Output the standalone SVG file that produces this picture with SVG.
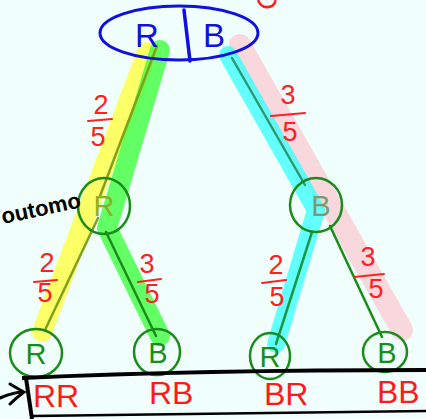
<svg xmlns="http://www.w3.org/2000/svg" width="426" height="419" viewBox="0 0 426 419">
<style>
.hl{fill:none;stroke-linecap:round;stroke-linejoin:round}
.thin{fill:none;stroke-width:2.5;stroke-linecap:round}
.node{fill:none;stroke:#1a8c1a;stroke-width:2.5}
.nt{font-family:"Liberation Sans",sans-serif;font-size:29px;fill:#1a8c1a;text-anchor:middle}
.fr{font-family:"Liberation Sans",sans-serif;font-size:27px;fill:#ff2020;text-anchor:middle}
.frl{stroke:#ff2020;stroke-width:2;stroke-linecap:round}
.lab{font-family:"Liberation Sans",sans-serif;font-size:32px;fill:#ff1a1a}
</style>
<rect width="426" height="419" fill="#f0fffb"/>
<g id="connectors">
  <path class="hl" d="M240,45 L402,330" stroke="#ffb8c4" stroke-opacity="0.55" stroke-width="22"/>
  <path class="hl" d="M147,52 L42,332" stroke="#ffff40" stroke-opacity="0.8" stroke-width="20"/>
  <path class="hl" d="M160,50 L107,228 L160,336" stroke="#33ff33" stroke-opacity="0.75" stroke-width="20"/>
  <path class="hl" d="M228,55 L316,210 L276,344" stroke="#33ffff" stroke-opacity="0.75" stroke-width="18"/>
  <path class="thin" d="M157,46 L100,196" stroke="#7fa020"/>
  <path class="thin" d="M98,218 L45,330" stroke="#7fa020"/>
  <path class="thin" d="M106,232 L156,336" stroke="#1a8c1a"/>
  <path class="thin" d="M232,58 L305,185" stroke="#2a9a70"/>
  <path class="thin" d="M312,232 L276,344" stroke="#1a9a40"/>
  <path class="thin" d="M330,226 L382,337" stroke="#1a8c1a"/>
</g>
<g id="root">
  <ellipse cx="179" cy="33" rx="79" ry="27" fill="none" stroke="#1010e0" stroke-width="3"/>
  <line x1="184" y1="10" x2="190" y2="61" stroke="#1010e0" stroke-width="3.5" stroke-linecap="round"/>
  <text x="147" y="47" font-family="Liberation Sans,sans-serif" font-size="33" fill="#1010e0" text-anchor="middle">R</text>
  <text x="214" y="47" font-family="Liberation Sans,sans-serif" font-size="33" fill="#1010e0" text-anchor="middle">B</text>
</g>
<path d="M258,0 Q262,10 272,6 Q276,3 275,0" fill="none" stroke="#ff2020" stroke-width="2.5"/>
<g id="n1R">
  <ellipse cx="104" cy="206" rx="26" ry="28" class="node"/>
  <text x="104" y="216" class="nt" style="fill:#8cb020">R</text>
</g>
<g id="n1B">
  <ellipse cx="316" cy="205" rx="26" ry="27" class="node"/>
  <text x="321" y="216" class="nt" style="fill:#7a9a70">B</text>
</g>
<g id="nRR">
  <ellipse cx="36" cy="353" rx="26" ry="24" class="node"/>
  <text x="36" y="364" class="nt">R</text>
</g>
<g id="nRB">
  <ellipse cx="157" cy="352" rx="23" ry="23" class="node"/>
  <text x="158" y="363" class="nt">B</text>
</g>
<g id="nBR">
  <ellipse cx="270" cy="356" rx="20" ry="23" class="node"/>
  <text x="270" y="367" class="nt">R</text>
</g>
<g id="nBB">
  <ellipse cx="385" cy="352" rx="22" ry="20" class="node"/>
  <text x="387" y="363" class="nt">B</text>
</g>
<g id="fractions">
  <text x="101" y="114" class="fr">2</text><line x1="88" y1="121" x2="112" y2="119" class="frl"/><text x="98" y="146" class="fr">5</text>
  <text x="288" y="104" class="fr">3</text><line x1="271" y1="116" x2="305" y2="113" class="frl"/><text x="290" y="141" class="fr">5</text>
  <text x="47" y="272" class="fr">2</text><line x1="34" y1="282" x2="57" y2="280" class="frl"/><text x="45" y="302" class="fr">5</text>
  <text x="147" y="273" class="fr">3</text><line x1="138" y1="282" x2="161" y2="279" class="frl"/><text x="152" y="303" class="fr">5</text>
  <text x="276" y="274" class="fr">2</text><line x1="262" y1="283" x2="286" y2="280" class="frl"/><text x="277" y="306" class="fr">5</text>
  <text x="368" y="266" class="fr">3</text><line x1="354" y1="277" x2="384" y2="274" class="frl"/><text x="376" y="298" class="fr">5</text>
</g>
<text x="3" y="224" font-family="Liberation Sans,sans-serif" font-size="22" font-weight="bold" fill="#000" transform="rotate(-12 3 224)">outomo</text>
<g id="box">
  <path d="M22,378 Q200,370 426,370" fill="none" stroke="#000" stroke-width="4"/>
  <path d="M26,378 L32,419" fill="none" stroke="#000" stroke-width="4"/>
  <path d="M32,416 Q200,414 426,411" fill="none" stroke="#000" stroke-width="2.5"/>
  <path d="M0,398 Q14,392 24,392 M10,384 Q20,390 24,392 Q16,398 10,404" fill="none" stroke="#000" stroke-width="3" stroke-linecap="round"/>
</g>
<g id="labels">
  <text x="33" y="407" class="lab">RR</text>
  <text x="149" y="404" class="lab">RB</text>
  <text x="264" y="405" class="lab">BR</text>
  <text x="377" y="403" class="lab">BB</text>
</g>
</svg>
